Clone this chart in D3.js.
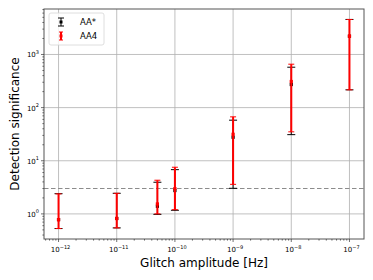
<!DOCTYPE html>
<html lang="en">
<head>
<meta charset="UTF-8">
<title>Detection significance</title>
<style>
    body { margin: 0; padding: 0; background: white; }
    svg { display: block; font-family: "DejaVu Sans", sans-serif; }
</style>
</head>
<body>
<div id="chart"></div>
<script src="https://cdn.jsdelivr.net/npm/d3@7"></script>
<script>
    // data
    const amplitudes = [1e-12, 1e-11, 5e-11, 1e-10, 1e-9, 1e-8, 1e-7];

    const aaStarMid = [0.78, 0.82, 1.39, 2.75, 27.7, 272, 2210];
    const aaStarLow = [0.53, 0.545, 0.98, 1.17, 3.03, 31, 216];
    const aaStarHigh = [2.4, 2.44, 3.94, 6.8, 58, 576, 4560];

    const aa4Mid = [0.78, 0.82, 1.54, 2.99, 31.5, 310, 2210];
    const aa4Low = [0.53, 0.545, 1.0, 1.2, 3.6, 35, 216];
    const aa4High = [2.38, 2.44, 4.3, 7.55, 67, 656, 4560];

    const xTicks = [-12, -11, -10, -9, -8, -7];
    const yTicks = [0, 1, 2, 3];
    const threshold = 3;

    const w = 373, h = 280;
    const margin = { left: 44, right: 9, top: 9, bottom: 41 };

    const svg = d3.select("#chart").append("svg")
        .attr("width", w).attr("height", h);

    // log ranges with 5% padding like matplotlib
    const pad = (lo, hi) => {
        const a = Math.log10(lo), b = Math.log10(hi), m = (b - a) * 0.05;
        return [Math.pow(10, a - m), Math.pow(10, b + m)];
    };
    const x = d3.scaleLog()
        .domain(pad(d3.min(amplitudes), d3.max(amplitudes)))
        .range([margin.left, w - margin.right]);
    const y = d3.scaleLog()
        .domain(pad(d3.min(aaStarLow.concat(aa4Low)), d3.max(aaStarHigh.concat(aa4High))))
        .range([h - margin.bottom, margin.top]);

    const x0 = margin.left, x1 = w - margin.right;
    const y0 = h - margin.bottom, y1 = margin.top;

    // grid
    const grid = svg.append("g").attr("stroke", "#b0b0b0").attr("stroke-width", 0.8);
    xTicks.forEach(e => grid.append("line")
        .attr("x1", x(Math.pow(10, e))).attr("x2", x(Math.pow(10, e)))
        .attr("y1", y0).attr("y2", y1));
    yTicks.forEach(e => grid.append("line")
        .attr("y1", y(Math.pow(10, e))).attr("y2", y(Math.pow(10, e)))
        .attr("x1", x0).attr("x2", x1));

    // threshold line
    svg.append("line")
        .attr("x1", x0).attr("x2", x1)
        .attr("y1", y(threshold)).attr("y2", y(threshold))
        .attr("stroke", "#8c8c8c").attr("stroke-width", 1.1)
        .attr("stroke-dasharray", "4.5,2.5");

    // error bars
    function drawSeries(mid, low, high, color, lw, cap) {
        const g = svg.append("g");
        amplitudes.forEach((a, i) => {
            const cx = x(a);
            g.append("line").attr("x1", cx).attr("x2", cx)
                .attr("y1", y(low[i])).attr("y2", y(high[i]))
                .attr("stroke", color).attr("stroke-width", lw);
            [low[i], high[i]].forEach(v => g.append("line")
                .attr("x1", cx - cap).attr("x2", cx + cap)
                .attr("y1", y(v)).attr("y2", y(v))
                .attr("stroke", color).attr("stroke-width", 1));
            g.append("rect")
                .attr("x", cx - 1.6).attr("y", y(mid[i]) - 1.6)
                .attr("width", 3.2).attr("height", 3.2)
                .attr("fill", color);
        });
    }
    drawSeries(aaStarMid, aaStarLow, aaStarHigh, "black", 1, 4);
    drawSeries(aa4Mid, aa4Low, aa4High, "red", 2, 3);

    // spines
    svg.append("rect")
        .attr("x", x0).attr("y", y1)
        .attr("width", x1 - x0).attr("height", y0 - y1)
        .attr("fill", "none").attr("stroke", "#555").attr("stroke-width", 1);

    // ticks
    const ticks = svg.append("g").attr("stroke", "#333").attr("stroke-width", 0.7);
    const xDom = x.domain(), yDom = y.domain();
    for (let e = -13; e <= -6; e++) {
        for (let k = 1; k <= 9; k++) {
            const v = k * Math.pow(10, e);
            if (v < xDom[0] || v > xDom[1]) continue;
            const len = k === 1 ? 3 : 1.6;
            ticks.append("line").attr("x1", x(v)).attr("x2", x(v))
                .attr("y1", y0).attr("y2", y0 + len);
        }
    }
    for (let e = -1; e <= 4; e++) {
        for (let k = 1; k <= 9; k++) {
            const v = k * Math.pow(10, e);
            if (v < yDom[0] || v > yDom[1]) continue;
            const len = k === 1 ? 3 : 1.6;
            ticks.append("line").attr("y1", y(v)).attr("y2", y(v))
                .attr("x1", x0).attr("x2", x0 - len);
        }
    }

    // tick labels
    function powLabel(sel, e) {
        sel.append("tspan").text("10");
        sel.append("tspan").attr("dy", -3.5).attr("font-size", 5)
            .text(e < 0 ? "\u2212" + (-e) : String(e));
    }
    xTicks.forEach(e => {
        const t = svg.append("text")
            .attr("x", x(Math.pow(10, e)) + 2).attr("y", y0 + 13)
            .attr("text-anchor", "middle").attr("font-size", 7).attr("fill", "black");
        powLabel(t, e);
    });
    yTicks.forEach(e => {
        const t = svg.append("text")
            .attr("x", x0 - 5).attr("y", y(Math.pow(10, e)) + 3)
            .attr("text-anchor", "end").attr("font-size", 7).attr("fill", "black");
        powLabel(t, e);
    });

    // axis labels
    svg.append("text")
        .attr("x", (x0 + x1) / 2).attr("y", h - 13)
        .attr("text-anchor", "middle").attr("font-size", 12)
        .text("Glitch amplitude [Hz]");
    svg.append("text")
        .attr("transform", `translate(18.5, ${(y0 + y1) / 2}) rotate(-90)`)
        .attr("text-anchor", "middle").attr("font-size", 12)
        .text("Detection significance");

    // legend
    const legend = svg.append("g").attr("transform", `translate(${x0 + 5}, ${y1 + 4})`);
    legend.append("rect")
        .attr("width", 55).attr("height", 32).attr("rx", 2)
        .attr("fill", "white").attr("fill-opacity", 0.8)
        .attr("stroke", "#d6d6d6").attr("stroke-width", 0.8);
    const items = [["AA*", "black", 1, 3], ["AA4", "red", 2, 2]];
    items.forEach(([name, color, lw, cap], i) => {
        const cy = 9 + i * 14, cx = 12;
        legend.append("line").attr("x1", cx).attr("x2", cx)
            .attr("y1", cy - 4).attr("y2", cy + 4)
            .attr("stroke", color).attr("stroke-width", lw);
        [cy - 4, cy + 4].forEach(v => legend.append("line")
            .attr("x1", cx - cap).attr("x2", cx + cap)
            .attr("y1", v).attr("y2", v)
            .attr("stroke", color).attr("stroke-width", 1));
        legend.append("rect").attr("x", cx - 1.5).attr("y", cy - 1.5)
            .attr("width", 3).attr("height", 3).attr("fill", color);
        legend.append("text").attr("x", 31).attr("y", cy + 3)
            .attr("font-size", 8.5).attr("fill", "black").text(name);
    });
</script>
</body>
</html>
